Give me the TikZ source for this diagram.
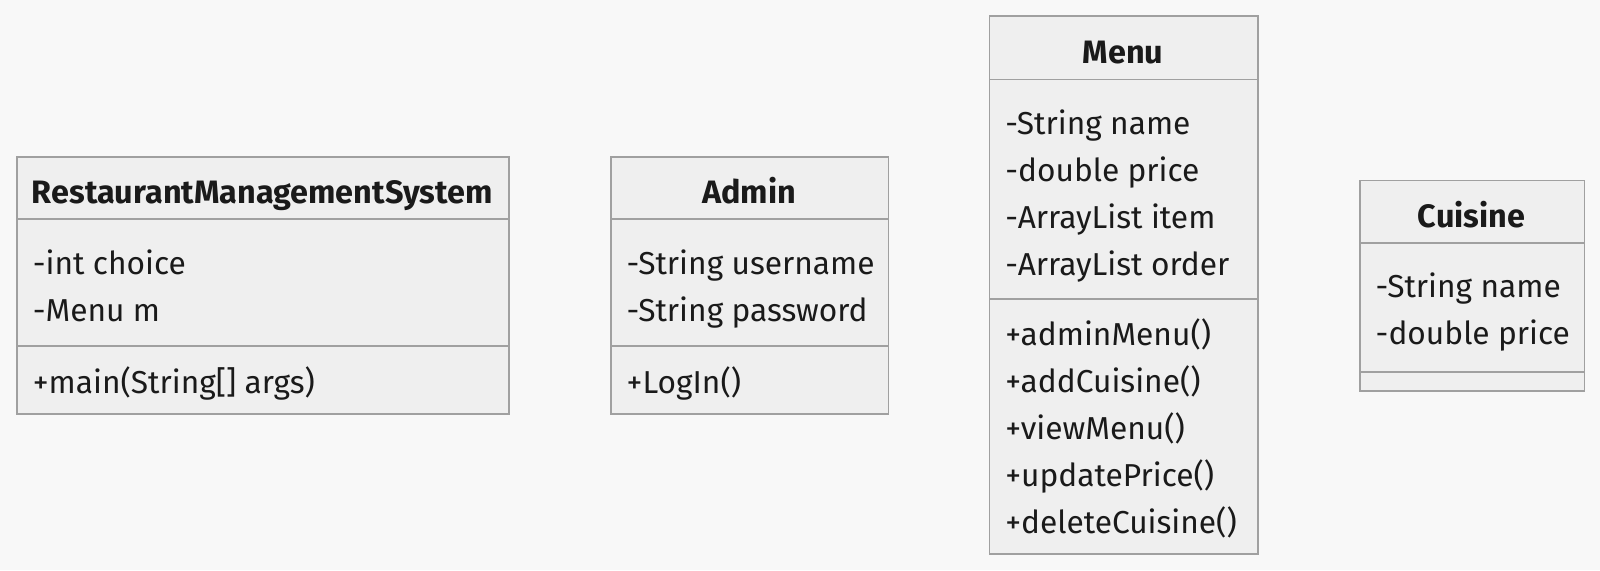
\documentclass[tikz,border=0pt]{standalone}
\usepackage{fontspec}
\setmainfont{Fira Sans}
\definecolor{pagebg}{HTML}{F8F8F8}
\definecolor{boxfill}{HTML}{EFEFEF}
\definecolor{boxline}{HTML}{A0A0A0}
\definecolor{ink}{HTML}{1A1A1A}
\begin{document}
\begin{tikzpicture}[x=1.0204pt,y=-1.0204pt]
        \tikzstyle{part} = [rectangle, draw=boxline, fill=boxfill, line width=1.7pt, inner sep=0pt, anchor=north west]
        \tikzstyle{title} = [inner sep=0pt, anchor=base, text=ink, font=\fontsize{32.4}{38}\selectfont\bfseries]
        \tikzstyle{member} = [inner sep=0pt, anchor=base west, text=ink, font=\fontsize{31.7}{38}\selectfont]
        \fill[pagebg] (0,0) rectangle (1568,558.6);
        \useasboundingbox (0,0) rectangle (1568,558.6);
        % RestaurantManagementSystem
        \node (rmsHead) [part, minimum width=492pt, minimum height=62.2pt] at (16,153) {};
        \node (rmsAttr) [part, minimum width=492pt, minimum height=126.5pt] at (16,214) {};
        \node (rmsOps) [part, minimum width=492pt, minimum height=68.4pt] at (16,338) {};
        \node (rmsTitle) [title] at (257,199) {RestaurantManagementSystem};
        \node (rmsA1) [member] at (32,269) {-int choice};
        \node (rmsA2) [member] at (32,315) {-Menu m};
        \node (rmsM1) [member] at (32,386) {+main(String[] args)};
        % Admin
        \node (admHead) [part, minimum width=277.5pt, minimum height=62.2pt] at (598,153) {};
        \node (admAttr) [part, minimum width=277.5pt, minimum height=126.5pt] at (598,214) {};
        \node (admOps) [part, minimum width=277.5pt, minimum height=68.4pt] at (598,338) {};
        \node (admTitle) [title] at (734,199) {Admin};
        \node (admA1) [member] at (614,269) {-String username};
        \node (admA2) [member] at (614,315) {-String password};
        \node (admM1) [member] at (614,386) {+LogIn()};
        % Menu
        \node (menHead) [part, minimum width=268.4pt, minimum height=63.3pt] at (969,15) {};
        \node (menAttr) [part, minimum width=268.4pt, minimum height=219.4pt] at (969,77) {};
        \node (menOps) [part, minimum width=268.4pt, minimum height=255.1pt] at (969,292) {};
        \node (menTitle) [title] at (1100.5,62) {Menu};
        \node (menA1) [member] at (985,132) {-String name};
        \node (menA2) [member] at (985,178) {-double price};
        \node (menA3) [member] at (985,224) {-ArrayList item};
        \node (menA4) [member] at (985,270) {-ArrayList order};
        \node (menM1) [member] at (985,339) {+adminMenu()};
        \node (menM2) [member] at (985,385) {+addCuisine()};
        \node (menM3) [member] at (985,431) {+viewMenu()};
        \node (menM4) [member] at (985,477) {+updatePrice()};
        \node (menM5) [member] at (985,523) {+deleteCuisine()};
        % Cuisine
        \node (cuiHead) [part, minimum width=224.5pt, minimum height=62.2pt] at (1332,176) {};
        \node (cuiAttr) [part, minimum width=224.5pt, minimum height=129.6pt] at (1332,237) {};
        \node (cuiOps) [part, minimum width=224.5pt, minimum height=18.4pt] at (1332,364) {};
        \node (cuiTitle) [title] at (1442,223) {Cuisine};
        \node (cuiA1) [member] at (1348,292) {-String name};
        \node (cuiA2) [member] at (1348,338) {-double price};
    \end{tikzpicture}
\end{document}
